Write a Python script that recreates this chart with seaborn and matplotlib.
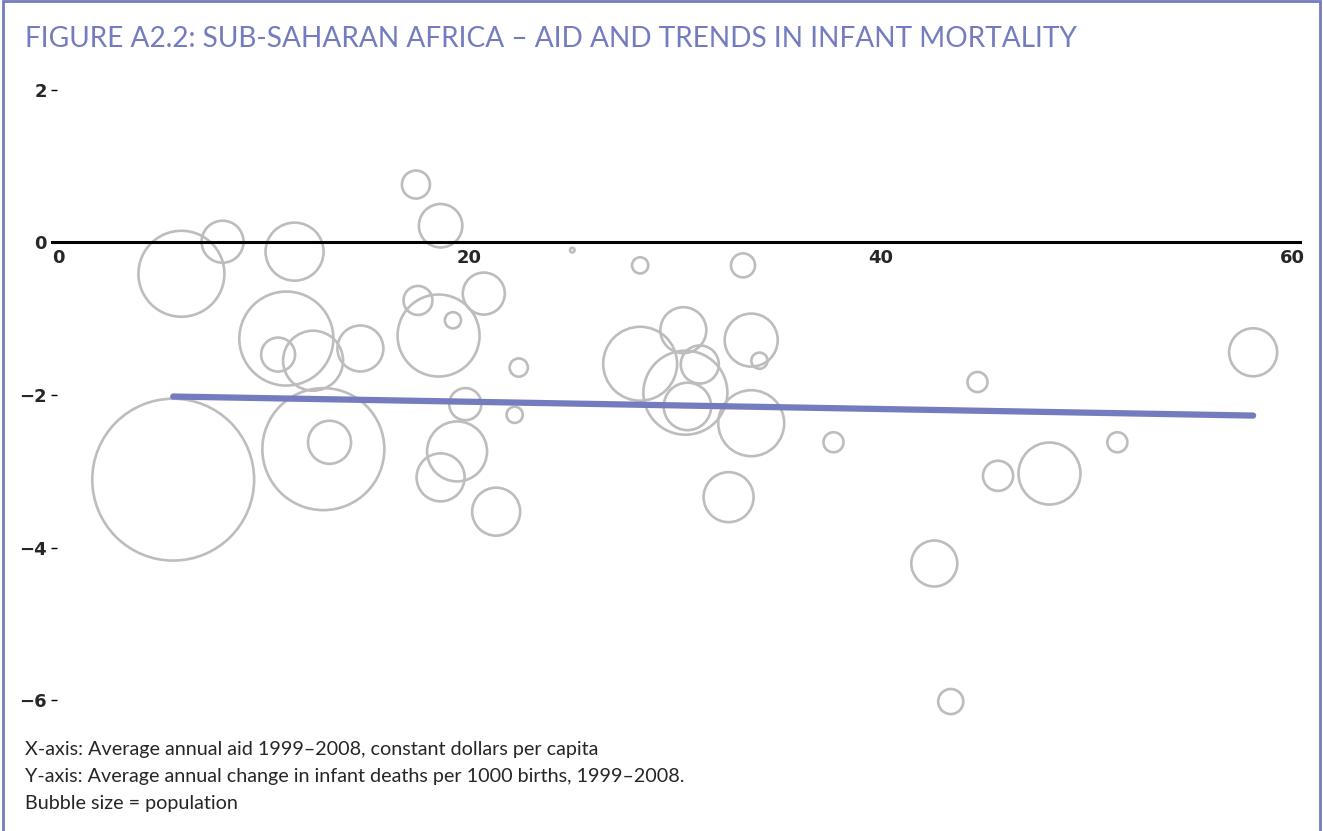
import numpy as np
import pandas as pd
import seaborn as sns
import matplotlib.pyplot as plt
from matplotlib.patches import Rectangle

# aid per capita (x), change in infant deaths (y), population (millions, approx)
aid = [5.6, 6.0, 8.0, 11.5, 11.1, 10.7, 12.4, 14.7, 12.9, 13.2,
       17.4, 18.6, 17.5, 18.5, 19.2, 20.7, 19.8, 19.4, 18.6, 21.3,
       22.2, 22.4, 25.0, 28.3, 33.3, 28.3, 30.4, 31.2, 30.5, 30.6,
       33.7, 34.1, 33.7, 32.6, 37.7, 44.7, 45.7, 48.2, 42.6, 43.4,
       51.5, 58.1]
mortality = [-3.11, -0.41, 0.01, -0.12, -1.26, -1.47, -1.55, -1.39, -2.71, -2.62,
             0.76, 0.22, -0.76, -1.22, -1.02, -0.67, -2.12, -2.74, -3.08, -3.53,
             -2.26, -1.64, -0.10, -0.30, -0.30, -1.59, -1.15, -1.60, -1.97, -2.15,
             -1.28, -1.55, -2.37, -3.34, -2.62, -1.83, -3.06, -3.03, -4.21, -6.02,
             -2.62, -1.44]
population = [150, 42.3, 10.1, 19.3, 50.6, 6.6, 20.6, 12.1, 85.2, 10.6,
              4.5, 10.8, 4.8, 38.5, 1.5, 10.1, 5.9, 20.6, 13.2, 13.2,
              1.5, 1.9, 0.12, 1.5, 3.3, 31.3, 12.1, 8.3, 40.4, 12.9,
              16.1, 1.5, 24.9, 14.3, 2.3, 2.3, 5.2, 22.0, 12.1, 3.6,
              2.3, 13.2]

trend_x = [5.6, 58.1]
trend_y = [-2.02, -2.27]

xticks = [0, 20, 40, 60]
yticks = [-6, -4, -2, 0, 2]

purple = "#737cbf"
df = pd.DataFrame({"aid": aid, "mortality": mortality, "population": population})
trend = pd.DataFrame({"x": trend_x, "y": trend_y})

sns.set_style("white")
plt.rcParams["font.family"] = ["Lato", "DejaVu Sans"]

fig = plt.figure(figsize=(13.23, 8.31), dpi=100)
ax = fig.add_axes([0.0384, 0.1301, 0.9461, 0.7662])

sns.scatterplot(data=df, x="aid", y="mortality", size="population",
                sizes=(0, 13582), size_norm=(0, 150), legend=False,
                facecolor="none", edgecolor="#bdbdbd", linewidth=1.9, ax=ax, zorder=2)
sns.lineplot(data=trend, x="x", y="y", color=purple, linewidth=4.5,
             solid_capstyle="round", ax=ax, zorder=4)
ax.axhline(0, color="black", linewidth=2.2, zorder=3)

ax.set_xlim(-0.35, 60.5)
ax.set_ylim(-6.3, 2.05)
ax.set_xticks(xticks)
ax.set_yticks(yticks)
ax.set_xlabel("")
ax.set_ylabel("")
for s in ["top", "right", "left", "bottom"]:
    ax.spines[s].set_visible(False)
ax.spines["bottom"].set_position(("data", 0))
ax.tick_params(axis="x", length=0, pad=5, labelsize=13)
ax.tick_params(axis="y", direction="in", length=4.5, width=1, color="black",
               pad=3, labelsize=13, left=True)
for lab in ax.get_xticklabels() + ax.get_yticklabels():
    lab.set_fontfamily(["DejaVu Sans"])
    lab.set_fontweight("bold")

fig.text(0.019, 0.953, "FIGURE A2.2: SUB-SAHARAN AFRICA – AID AND TRENDS IN INFANT MORTALITY",
         color=purple, fontsize=20.2, va="center", ha="left")
notes = ["X-axis: Average annual aid 1999–2008, constant dollars per capita",
         "Y-axis: Average annual change in infant deaths per 1000 births, 1999–2008.",
         "Bubble size = population"]
for i, t in enumerate(notes):
    fig.text(0.019, 0.0975 - i * 0.0325, t, fontsize=14.2, va="center", ha="left")

fig.add_artist(Rectangle((0.0019, -0.05), 0.9958, 1.0488, transform=fig.transFigure,
                         fill=False, edgecolor=purple, linewidth=2))

fig.savefig("out.png", dpi=100)
